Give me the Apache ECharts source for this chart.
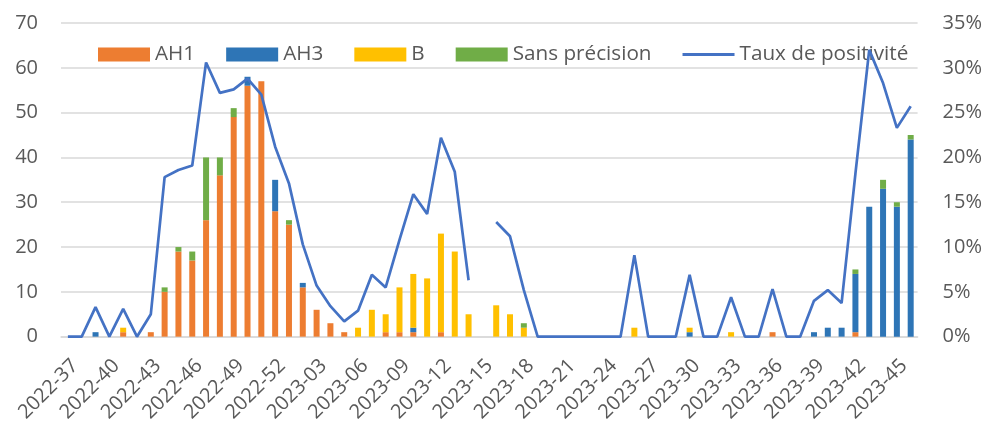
<!DOCTYPE html>
<html>
<head>
<meta charset="utf-8">
<script src="https://cdn.jsdelivr.net/npm/echarts@6/dist/echarts.min.js"></script>
<style>
    html, body { margin: 0; padding: 0; background: #fff; }
    #chart { width: 985px; height: 425px; }
</style>
</head>
<body>
<div id="chart"></div>
<script>
// semaines 2022-37 .. 2023-46
var weeks = [
    '2022-37','2022-38','2022-39','2022-40','2022-41','2022-42','2022-43','2022-44',
    '2022-45','2022-46','2022-47','2022-48','2022-49','2022-50','2022-51','2022-52',
    '2023-01','2023-02','2023-03','2023-04','2023-05','2023-06','2023-07','2023-08',
    '2023-09','2023-10','2023-11','2023-12','2023-13','2023-14','2023-15','2023-16',
    '2023-17','2023-18','2023-19','2023-20','2023-21','2023-22','2023-23','2023-24',
    '2023-25','2023-26','2023-27','2023-28','2023-29','2023-30','2023-31','2023-32',
    '2023-33','2023-34','2023-35','2023-36','2023-37','2023-38','2023-39','2023-40',
    '2023-41','2023-42','2023-43','2023-44','2023-45','2023-46'
];

var ah1 = [0,0,0,0,1,0,1,10,19,17,26,36,49,56,57,28,
           25,11,6,3,1,0,0,1,1,1,0,1,0,0,0,0,
           0,0,0,0,0,0,0,0,0,0,0,0,0,0,0,0,
           0,0,0,1,0,0,0,0,0,1,0,0,0,0];
var ah3 = [0,0,1,0,0,0,0,0,0,0,0,0,0,2,0,7,
           0,1,0,0,0,0,0,0,0,1,0,0,0,0,0,0,
           0,0,0,0,0,0,0,0,0,0,0,0,0,1,0,0,
           0,0,0,0,0,0,1,2,2,13,29,33,29,44];
var typeB = [0,0,0,0,1,0,0,0,0,0,0,0,0,0,0,0,
             0,0,0,0,0,2,6,4,10,12,13,22,19,5,0,7,
             5,2,0,0,0,0,0,0,0,2,0,0,0,1,0,0,
             1,0,0,0,0,0,0,0,0,0,0,0,0,0];
var sansPrecision = [0,0,0,0,0,0,0,1,1,2,14,4,2,0,0,0,
                     1,0,0,0,0,0,0,0,0,-0.2,0,0,0,0,0,0,
                     0,1,0,0,0,0,0,0,0,0,0,0,0,0,0,0,
                     0,0,0,0,0,0,0,0,0,1,0,2,1,1];
// taux de positivité (%)
var tauxPositivite = [0,0,3.3,0,3.1,0,2.5,17.8,18.6,19.1,30.6,27.2,27.6,28.8,27.0,21.2,
                      17.1,10.3,5.7,3.4,1.7,2.9,6.9,5.5,10.8,15.9,13.7,22.2,18.4,6.3,null,12.8,
                      11.2,5.2,0,0,0,0,0,0,0,9.1,0,0,0,6.9,0,0,
                      4.4,0,0,5.3,0,0,4.0,5.2,3.75,18.2,32.0,28.3,23.3,25.7];

var leftTicks = { min: 0, max: 70, interval: 10 };
var rightTicks = { min: 0, max: 35, interval: 5 };

var FONT = 'Open Sans';
var TXT = '#595959';
var GRIDC = '#d9d9d9';

var myChart = echarts.init(document.getElementById('chart'));

function barSerie(name, data, color) {
    return {
        name: name,
        type: 'bar',
        stack: 'total',
        barWidth: 6,
        data: data,
        itemStyle: { color: color }
    };
}

myChart.setOption({
    animation: false,
    textStyle: { fontFamily: FONT },
    grid: { left: 61, right: 65, top: 23, bottom: 88, containLabel: false },
    legend: {
        left: 93,
        top: 39,
        itemWidth: 52,
        itemHeight: 14,
        itemGap: 31,
        textStyle: { color: TXT, fontSize: 20.7, fontFamily: FONT },
        data: [
            { name: 'AH1', icon: 'rect' },
            { name: 'AH3', icon: 'rect' },
            { name: 'B', icon: 'rect' },
            { name: 'Sans précision', icon: 'rect' },
            { name: 'Taux de positivité', icon: 'path://M0,0 L52,0 L52,3 L0,3 Z', itemStyle: { color: '#4472C4' } }
        ]
    },
    xAxis: {
        type: 'category',
        data: weeks,
        boundaryGap: true,
        axisLine: { lineStyle: { color: GRIDC, width: 1.5 } },
        axisTick: { show: false },
        axisLabel: {
            interval: 2,
            rotate: 45,
            margin: 19,
            verticalAlign: 'top',
            color: TXT,
            fontSize: 20,
            fontFamily: FONT
        }
    },
    yAxis: [
        {
            type: 'value',
            min: leftTicks.min, max: leftTicks.max, interval: leftTicks.interval,
            axisLine: { show: false },
            axisTick: { show: false },
            splitLine: { lineStyle: { color: GRIDC, width: 1.5 } },
            axisLabel: { color: TXT, fontSize: 20, fontFamily: FONT, margin: 23 }
        },
        {
            type: 'value',
            min: rightTicks.min, max: rightTicks.max, interval: rightTicks.interval,
            axisLine: { show: false },
            axisTick: { show: false },
            splitLine: { show: false },
            axisLabel: { color: TXT, fontSize: 20, fontFamily: FONT, margin: 25, formatter: '{value}%' }
        }
    ],
    series: [
        barSerie('AH1', ah1, '#ED7D31'),
        barSerie('AH3', ah3, '#2E75B6'),
        barSerie('B', typeB, '#FFC000'),
        barSerie('Sans précision', sansPrecision, '#70AD47'),
        {
            name: 'Taux de positivité',
            type: 'line',
            yAxisIndex: 1,
            data: tauxPositivite,
            symbol: 'none',
            connectNulls: false,
            lineStyle: { color: '#4472C4', width: 2.7 },
            itemStyle: { color: '#4472C4' },
            z: 5
        }
    ]
});
</script>
</body>
</html>
